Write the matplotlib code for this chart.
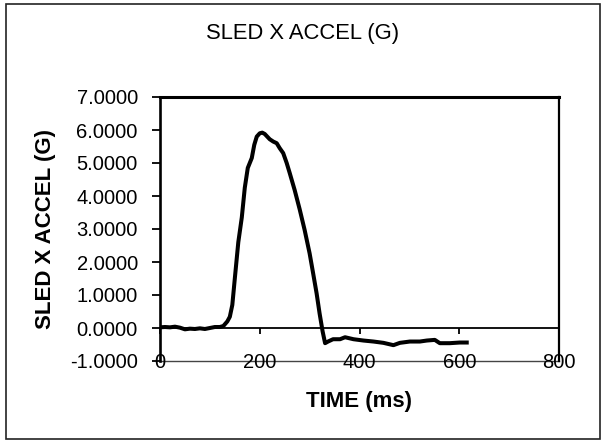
import matplotlib.pyplot as plt
from matplotlib.patches import Rectangle

plt.rcParams['font.family'] = ['Liberation Sans', 'DejaVu Sans']

# sled pulse, time in ms vs acceleration in G
time_ms = [0, 10, 20, 30, 40, 50, 60, 70, 80, 90, 100, 110, 120, 127, 135,
           140, 145, 150, 157, 164, 170, 176, 184, 189, 194, 200, 205, 210,
           220, 227, 234, 240, 247, 254, 260, 270, 280, 290, 300, 307, 314,
           320, 326, 331, 337, 347, 361, 371, 388, 408, 428, 448, 468, 481,
           501, 521, 535, 551, 561, 581, 601, 615]
accel_g = [0.02, 0.03, 0.02, 0.04, 0.01, -0.04, -0.02, -0.03, -0.01, -0.03,
           0.00, 0.03, 0.03, 0.06, 0.20, 0.34, 0.70, 1.50, 2.60, 3.35, 4.25,
           4.85, 5.15, 5.55, 5.80, 5.90, 5.92, 5.88, 5.72, 5.65, 5.60, 5.45,
           5.30, 5.00, 4.70, 4.18, 3.60, 2.97, 2.26, 1.66, 1.05, 0.44, -0.10,
           -0.46, -0.41, -0.34, -0.34, -0.28, -0.34, -0.38, -0.41, -0.45,
           -0.52, -0.45, -0.41, -0.41, -0.38, -0.36, -0.46, -0.46, -0.44, -0.44]

x_ticks = [0, 200, 400, 600, 800]
y_ticks = [-1, 0, 1, 2, 3, 4, 5, 6, 7]

W, H = 602, 442
fig = plt.figure(figsize=(W / 100, H / 100), dpi=100)
ax = fig.add_axes([160 / W, 1 - 361 / H, 399 / W, 264 / H])

ax.plot(time_ms, accel_g, color='black', lw=2.9, solid_joinstyle='round')

ax.set_xlim(0, 800)
ax.set_ylim(-1, 7)

# spines: heavy frame, x axis crosses at zero
ax.spines['top'].set_linewidth(2.2)
ax.spines['right'].set_linewidth(1.6)
ax.spines['left'].set_linewidth(1.9)
ax.spines['bottom'].set_position(('data', 0))
ax.spines['bottom'].set_linewidth(1.3)
ax.axhline(-1, color='#444444', lw=1.0, clip_on=False, zorder=1)

ax.set_yticks(y_ticks)
ax.set_yticklabels([f'{v:.4f}' for v in y_ticks], fontsize=14.5)
ax.tick_params(axis='y', direction='out', length=6, width=1.3, pad=10)

ax.set_xticks(x_ticks)
ax.set_xticklabels([])
ax.tick_params(axis='x', direction='out', length=4, width=1.3)
for xv in x_ticks:
    ax.text(xv, -1, str(xv), ha='center', va='center_baseline', fontsize=14.5)

ax.set_ylabel('SLED X ACCEL (G)', fontsize=16, fontweight='bold')
ax.yaxis.set_label_coords(-0.26, 0.5)
ax.set_xlabel('TIME (ms)', fontsize=16, fontweight='bold', va='baseline')
ax.xaxis.set_label_coords(0.5, -0.174)

fig.suptitle('SLED X ACCEL (G)', x=303 / W, y=1 - 38.5 / H, va='baseline', fontsize=15.8)

# outer chart border
fig.patches.append(Rectangle((6 / W, 3 / H), 594 / W, 435 / H, transform=fig.transFigure,
                             fill=False, edgecolor='#222222', lw=1.2))

fig.savefig('out.png', dpi=100)
